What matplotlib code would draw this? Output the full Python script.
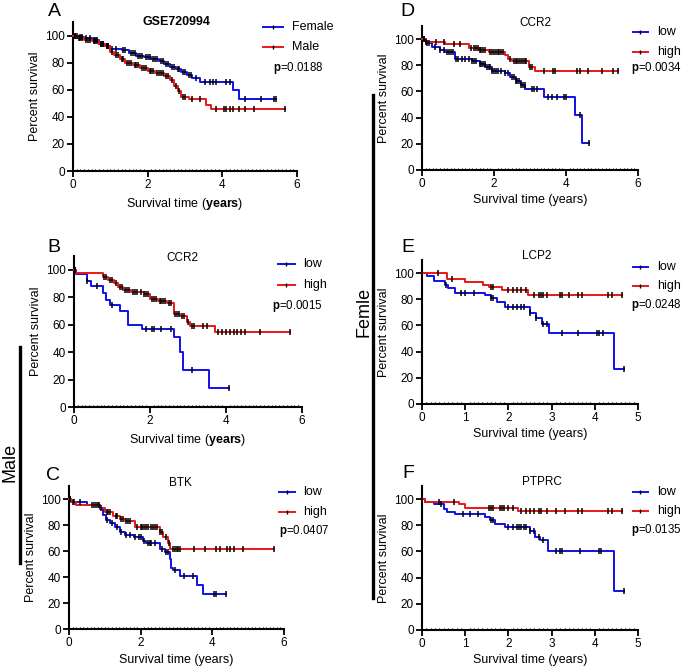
import numpy as np
import matplotlib
matplotlib.use("Agg")
import matplotlib.pyplot as plt
from matplotlib.lines import Line2D
from matplotlib.ticker import MultipleLocator

plt.rcParams['font.family'] = ['Liberation Sans', 'DejaVu Sans']
plt.rcParams['mathtext.fontset'] = 'custom'
plt.rcParams['mathtext.rm'] = 'Liberation Sans'
plt.rcParams['mathtext.bf'] = 'Liberation Sans:bold'

BLUE = '#1010e8'
RED = '#e81818'

# ---------------- Panel A: GSE720994, Female vs Male ----------------
a_fem_t = [0, 0.15, 0.3, 0.5, 0.7, 0.85, 1.0, 1.3, 1.5, 1.7, 1.9, 2.1, 2.3, 2.45, 2.6, 2.75, 2.9, 3.05, 3.2, 3.4, 4.28, 4.45]
a_fem_s = [100, 99, 98, 96.5, 94, 92, 90, 89, 87, 85, 84, 83, 81, 79, 77, 75, 73, 71, 69, 66, 60, 53]
a_fem_end = 5.45
a_fem_c = [0.05, 0.1, 0.2, 0.25, 0.35, 0.45, 0.55, 0.6, 0.65, 0.75, 0.8, 0.9, 0.95, 1.05, 1.15, 1.35, 1.4, 1.55, 1.6, 1.65,
           1.75, 1.8, 1.85, 1.95, 2.0, 2.05, 2.15, 2.2, 2.25, 2.35, 2.4, 2.5, 2.55, 2.65, 2.7, 2.8, 2.85, 2.95, 3.0, 3.1,
           3.15, 3.3, 3.53, 3.66, 3.75, 3.84, 4.09, 4.2, 4.6, 5.04, 5.38, 5.45]
a_male_t = [0, 0.1, 0.3, 0.5, 0.7, 0.85, 1.0, 1.1, 1.25, 1.4, 1.6, 1.8, 2.0, 2.2, 2.45, 2.6, 2.7, 2.8, 2.88, 3.1, 3.55, 3.7]
a_male_s = [100, 98, 97, 96, 94, 92, 88, 86, 83, 80, 78, 76, 74, 72, 70, 67, 63, 59, 55, 53, 49, 46]
a_male_end = 5.68
a_male_c = [0.05, 0.15, 0.2, 0.25, 0.35, 0.4, 0.45, 0.55, 0.6, 0.65, 0.75, 0.8, 0.9, 0.95, 1.05, 1.15, 1.2, 1.3, 1.35,
            1.45, 1.5, 1.55, 1.65, 1.7, 1.75, 1.85, 1.9, 1.95, 2.05, 2.1, 2.15, 2.25, 2.3, 2.35, 2.4, 2.5, 2.55, 2.65,
            2.75, 2.85, 2.95, 3.0, 3.2, 3.4, 3.82, 4.04, 4.11, 4.2, 4.29, 4.45, 4.6, 4.86, 5.68]

# ---------------- Panel B: CCR2 (Male) ----------------
b_low_t = [0, 0.05, 0.35, 0.45, 0.75, 0.85, 0.95, 1.2, 1.43, 1.78, 2.62, 2.8, 2.86, 3.54]
b_low_s = [100, 97, 92, 88, 83, 78, 74, 70, 60, 57, 51, 40, 27, 14]
b_low_end = 4.07
b_low_c = [0.02, 0.35, 0.6, 1.0, 1.9, 2.05, 2.1, 2.3, 2.55, 3.1, 4.07]
b_high_t = [0, 0.05, 0.77, 0.9, 1.04, 1.15, 1.3, 1.5, 1.83, 2.0, 2.2, 2.44, 2.62, 2.8, 2.97, 3.06, 3.72]
b_high_s = [100, 97.5, 95, 92.5, 90, 87.5, 85, 83.5, 82, 78.5, 77, 75.5, 68, 66, 62, 59, 55]
b_high_end = 5.68
b_high_c = [0.02, 0.8, 0.85, 0.95, 1.0, 1.1, 1.2, 1.25, 1.35, 1.4, 1.45, 1.55, 1.6, 1.65, 1.75, 1.85, 1.9, 1.95, 2.05,
            2.1, 2.15, 2.25, 2.3, 2.35, 2.4, 2.5, 2.55, 2.65, 2.7, 2.75, 2.85, 2.9, 3.0, 3.1, 3.15, 3.4, 3.5, 3.8, 3.9,
            4.0, 4.1, 4.2, 4.3, 4.4, 4.5, 4.9, 5.68]

# ---------------- Panel C: BTK (Male) ----------------
c_low_t = [0, 0.05, 0.5, 0.86, 0.95, 1.02, 1.14, 1.28, 1.42, 1.56, 1.8, 2.07, 2.16, 2.53, 2.67, 2.81, 2.86, 2.9, 3.09, 3.56, 3.74]
c_low_s = [100, 97.5, 95.6, 92, 88, 84, 81.5, 78.5, 74.4, 72.6, 71, 67.7, 66, 61.5, 59, 53.8, 47, 45.6, 41, 33.6, 27]
c_low_end = 4.39
c_low_c = [0.02, 0.1, 0.15, 0.3, 0.65, 0.75, 0.85, 1.05, 1.2, 1.35, 1.45, 1.6, 1.7, 1.85, 1.95, 2.0, 2.1, 2.2, 2.25,
           2.3, 2.4, 2.6, 2.7, 2.75, 2.95, 3.2, 3.45, 4.05, 4.1, 4.39]
c_high_t = [0, 0.05, 0.2, 0.86, 1.0, 1.23, 1.42, 1.56, 1.84, 2.53, 2.63, 2.77, 2.83]
c_high_s = [100, 97.5, 95.6, 93, 89.7, 87, 85, 82.8, 78.5, 74.4, 70.8, 66, 61.8]
c_high_end = 5.71
c_high_c = [0.02, 0.7, 0.8, 0.9, 1.05, 1.1, 1.15, 1.3, 1.35, 1.45, 1.5, 1.6, 1.65, 1.7, 1.9, 2.0, 2.05, 2.1, 2.15,
            2.2, 2.3, 2.35, 2.4, 2.45, 2.55, 2.6, 2.7, 2.8, 2.9, 2.95, 3.0, 3.05, 3.1, 3.5, 3.8, 4.1, 4.2, 4.4, 4.5,
            4.6, 4.85, 5.71]

# ---------------- Panel D: CCR2 (Female) ----------------
d_low_t = [0, 0.1, 0.28, 0.5, 0.65, 0.93, 1.39, 1.6, 1.76, 1.94, 2.3, 2.45, 2.6, 2.75, 2.87, 3.38, 4.26, 4.44]
d_low_s = [100, 97, 94, 92, 90, 85, 83, 81, 79, 76, 74, 71, 68, 65, 62, 56, 42, 21]
d_low_end = 4.65
d_low_c = [0.05, 0.15, 0.2, 0.35, 0.5, 0.6, 0.7, 0.75, 0.8, 0.85, 0.95, 1.0, 1.1, 1.2, 1.3, 1.4, 1.45, 1.5, 1.6, 1.65,
           1.7, 1.75, 1.8, 1.85, 1.9, 1.95, 2.0, 2.05, 2.1, 2.2, 2.3, 2.4, 2.5, 2.55, 2.6, 2.65, 2.7, 2.75, 2.8, 2.85,
           3.05, 3.1, 3.2, 3.5, 3.6, 3.75, 3.95, 4.0, 4.4, 4.65]
d_high_t = [0, 0.1, 0.65, 1.3, 1.57, 1.85, 2.3, 2.4, 2.5, 2.96, 3.13]
d_high_s = [100, 98, 96, 93, 92, 90, 88, 85, 83, 79, 75.5]
d_high_end = 5.45
d_high_c = [0.05, 0.1, 0.4, 0.6, 0.9, 1.05, 1.35, 1.45, 1.5, 1.55, 1.6, 1.65, 1.7, 1.75, 1.9, 1.95, 2.0, 2.05, 2.1,
            2.15, 2.2, 2.25, 2.45, 2.55, 2.6, 2.65, 2.7, 2.75, 2.8, 2.85, 2.9, 3.0, 3.05, 3.4, 3.65, 3.7, 4.3, 4.4,
            4.6, 5.0, 5.3, 5.45]

# ---------------- Panel E: LCP2 (Female) ----------------
e_low_t = [0, 0.12, 0.27, 0.54, 0.6, 0.77, 1.46, 1.6, 1.73, 1.92, 2.5, 2.63, 2.77, 2.94, 4.45]
e_low_s = [100, 97.5, 94, 91, 88.5, 85, 83.5, 81, 77.6, 74, 69.5, 65.6, 61, 54, 27]
e_low_end = 4.68
e_low_c = [0.0, 0.55, 0.9, 1.0, 1.2, 1.6, 1.65, 2.0, 2.1, 2.2, 2.3, 2.35, 2.5, 2.65, 2.8, 2.9, 3.25, 3.6, 4.05,
           4.1, 4.2, 4.68]
e_high_t = [0, 0.58, 1.0, 1.42, 1.54, 1.85, 2.46]
e_high_s = [100, 95.4, 93, 91, 89, 87, 83.5]
e_high_end = 4.63
e_high_c = [0.38, 0.7, 1.6, 1.65, 2.0, 2.1, 2.2, 2.3, 2.4, 2.6, 2.7, 2.75, 2.8, 2.9, 3.2, 3.25, 3.4, 3.6, 3.7,
            4.3, 4.4, 4.63]

# ---------------- Panel F: PTPRC (Female) ----------------
f_low_t = [0, 0.08, 0.27, 0.5, 0.58, 0.77, 1.46, 1.58, 1.7, 1.92, 2.5, 2.62, 2.73, 2.92, 4.45]
f_low_s = [100, 98, 96, 92.6, 90, 88.3, 86, 83.7, 80.7, 79, 75.6, 71, 68.5, 60.4, 30]
f_low_end = 4.68
f_low_c = [0.0, 0.45, 0.95, 1.1, 1.3, 1.6, 1.65, 2.0, 2.1, 2.2, 2.25, 2.3, 2.35, 2.4, 2.5, 2.6, 2.7, 2.8, 3.1,
           3.2, 3.25, 3.65, 4.1, 4.15, 4.68]
f_high_t = [0, 0.08, 0.85, 1.0, 2.23]
f_high_s = [100, 98, 96, 93.4, 90.9]
f_high_end = 4.62
f_high_c = [0.4, 0.75, 1.55, 1.6, 1.65, 1.8, 1.85, 1.9, 2.0, 2.1, 2.3, 2.4, 2.5, 2.6, 2.7, 2.75, 2.9, 3.1, 3.3, 3.6,
            3.7, 4.3, 4.4, 4.62]

W, H = 685, 669
fig = plt.figure(figsize=(W / 100, H / 100), dpi=100)


def px_axes(left, right, bottom, top):
    return fig.add_axes([left / W, 1 - bottom / H, (right - left) / W, (bottom - top) / H])


def km(ax, t, s, end, cens, color):
    t = np.asarray(t, float)
    s = np.asarray(s, float)
    tx = np.append(t, end)
    sy = np.append(s, s[-1])
    ax.step(tx, sy, where='post', color=color, lw=1.4, zorder=3, clip_on=False)
    c = np.asarray(cens, float)
    idx = np.searchsorted(t, c, side='right') - 1
    ax.plot(c, s[idx], ls='none', marker='|', color='black', ms=3.8, mew=1.1, zorder=4, clip_on=False)


def style(ax, xmax, bold_years):
    ax.set_xlim(0, xmax)
    ax.set_ylim(0, 110)
    ax.set_xticks(np.arange(0, xmax + 1, 2 if xmax == 6 else 1))
    ax.set_yticks([0, 20, 40, 60, 80, 100])
    ax.xaxis.set_minor_locator(MultipleLocator(0.1))
    for sp in ['top', 'right']:
        ax.spines[sp].set_visible(False)
    for sp in ['left', 'bottom']:
        ax.spines[sp].set_linewidth(1.5)
    ax.tick_params(which='major', direction='out', length=4, width=1.3, labelsize=8.5, pad=2)
    ax.tick_params(which='minor', axis='x', direction='in', length=1.8, width=0.8)
    ax.set_ylabel('Percent survival', fontsize=9, labelpad=3)
    if bold_years:
        ax.set_xlabel(r'Survival time ($\mathbf{years}$)', fontsize=9, labelpad=3)
    else:
        ax.set_xlabel('Survival time (years)', fontsize=9, labelpad=3)


def legend(ax, labels, x0, x1, xt, ys, pval, xp, yp):
    for lab, col, y in zip(labels, [BLUE, RED], ys):
        ax.add_line(Line2D([x0, x1], [y, y], transform=ax.transAxes, color=col, lw=1.4, clip_on=False))
        ax.add_line(Line2D([(x0 + x1) / 2], [y], transform=ax.transAxes, marker='|', color='black',
                           ms=3.5, mew=1.0, clip_on=False))
        ax.text(xt, y, lab, transform=ax.transAxes, fontsize=9, va='center', ha='left')
    ax.text(xp, yp, r'$\mathbf{p}$=' + pval, transform=ax.transAxes, fontsize=8.3, va='center', ha='left')


# Panel A
axA = px_axes(73, 297, 171, 22)
km(axA, a_fem_t, a_fem_s, a_fem_end, a_fem_c, BLUE)
km(axA, a_male_t, a_male_s, a_male_end, a_male_c, RED)
style(axA, 6, True)
axA.text(0.464, 1.0, 'GSE720994', transform=axA.transAxes, ha='center', va='center', fontsize=9, fontweight='bold')
legend(axA, ['Female', 'Male'], 0.848, 0.938, 0.978, [0.964, 0.83], '0.0188', 0.893, 0.69)

# Panel B
axB = px_axes(74, 302, 407, 256)
km(axB, b_low_t, b_low_s, b_low_end, b_low_c, BLUE)
km(axB, b_high_t, b_high_s, b_high_end, b_high_c, RED)
style(axB, 6, True)
axB.text(0.474, 0.987, 'CCR2', transform=axB.transAxes, ha='center', va='center', fontsize=8.5)
legend(axB, ['low', 'high'], 0.895, 0.969, 1.004, [0.947, 0.808], '0.0015', 0.868, 0.669)

# Panel C
axC = px_axes(69, 284, 629, 486)
km(axC, c_low_t, c_low_s, c_low_end, c_low_c, BLUE)
km(axC, c_high_t, c_high_s, c_high_end, c_high_c, RED)
style(axC, 6, False)
axC.text(0.516, 1.02, 'BTK', transform=axC.transAxes, ha='center', va='center', fontsize=8.5)
legend(axC, ['low', 'high'], 0.977, 1.051, 1.088, [0.958, 0.818], '0.0407', 0.977, 0.685)

# Panel D
axD = px_axes(422, 638, 170, 26)
km(axD, d_low_t, d_low_s, d_low_end, d_low_c, BLUE)
km(axD, d_high_t, d_high_s, d_high_end, d_high_c, RED)
style(axD, 6, False)
axD.text(0.523, 1.02, 'CCR2', transform=axD.transAxes, ha='center', va='center', fontsize=8.5)
legend(axD, ['low', 'high'], 0.977, 1.046, 1.088, [0.958, 0.82], '0.0034', 0.968, 0.71)

# Panel E
axE = px_axes(422, 638, 404, 260)
km(axE, e_low_t, e_low_s, e_low_end, e_low_c, BLUE)
km(axE, e_high_t, e_high_s, e_high_end, e_high_c, RED)
style(axE, 5, False)
axE.text(0.532, 1.03, 'LCP2', transform=axE.transAxes, ha='center', va='center', fontsize=8.5)
legend(axE, ['low', 'high'], 0.977, 1.046, 1.088, [0.951, 0.819], '0.0248', 0.968, 0.688)

# Panel F
axF = px_axes(422, 638, 630, 486)
km(axF, f_low_t, f_low_s, f_low_end, f_low_c, BLUE)
km(axF, f_high_t, f_high_s, f_high_end, f_high_c, RED)
style(axF, 5, False)
axF.text(0.556, 1.03, 'PTPRC', transform=axF.transAxes, ha='center', va='center', fontsize=8.5)
legend(axF, ['low', 'high'], 0.977, 1.046, 1.088, [0.958, 0.826], '0.0135', 0.968, 0.694)

# Panel letters
for lab, x, y in [('A', 54, 12), ('B', 54, 248), ('C', 53, 475), ('D', 407, 11), ('E', 408, 248), ('F', 408, 473)]:
    fig.text(x / W, 1 - y / H, lab, fontsize=14, ha='center', va='center')

# Group bars and labels
fig.add_artist(Line2D([20 / W, 20 / W], [1 - 347 / H, 1 - 563 / H], color='black', lw=2.4))
fig.text(10 / W, 1 - 462 / H, 'Male', rotation=90, fontsize=13, ha='center', va='center')
fig.add_artist(Line2D([373 / W, 373 / W], [1 - 95 / H, 1 - 598 / H], color='black', lw=2.4))
fig.text(364 / W, 1 - 312 / H, 'Femle', rotation=90, fontsize=13, ha='center', va='center')

fig.savefig('out.png', dpi=100)
